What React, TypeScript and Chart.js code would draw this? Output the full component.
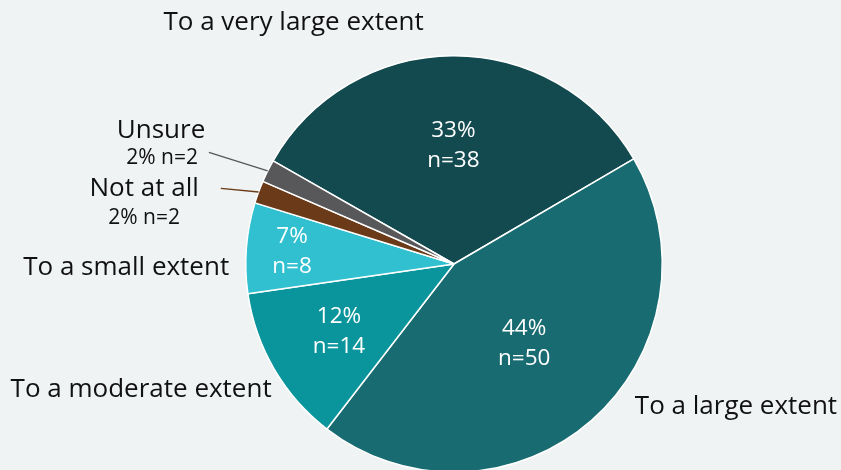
import React, { useEffect, useRef } from "react";
import { Chart, registerables } from "chart.js";

Chart.register(...registerables);

const categories = [
  "To a very large extent",
  "To a large extent",
  "To a moderate extent",
  "To a small extent",
  "Not at all",
  "Unsure",
];
const counts = [38, 50, 14, 8, 2, 2];
const percentLabels = ["33%", "44%", "12%", "7%", "2%", "2%"];
const colors = ["#134a4f", "#186b71", "#0a959d", "#30c0d0", "#6b3a18", "#58585a"];

// Layout (in units of pie radius, relative to pie centre)
const innerLabelDist = [0.57, 0.51, 0.64, 0.78, 0, 0];
const outerLabelPos: ([number, number] | null)[] = [
  [-161 / 209, -242 / 209],
  [283 / 209, 143 / 209],
  [-314 / 209, 126 / 209],
  [-329 / 209, 4 / 209],
  [-311 / 209, -76 / 209],
  [-294 / 209, -134 / 209],
];
const smallLabelPos: ([number, number] | null)[] = [null, null, null, null, [-311 / 209, -46 / 209], [-293 / 209, -106 / 209]];
const leaderStart: ([number, number] | null)[] = [null, null, null, null, [-234 / 209, -76 / 209], [-246 / 209, -112 / 209]];

const FONT = "'Open Sans', Lato, sans-serif";

const labelPlugin = {
  id: "pieLabels",
  afterDraw(chart: any) {
    const ctx = chart.ctx;
    const meta = chart.getDatasetMeta(0);
    ctx.save();
    ctx.textAlign = "center";
    ctx.textBaseline = "middle";
    meta.data.forEach((arc: any, i: number) => {
      const { x, y, startAngle, endAngle, outerRadius } = arc.getProps(
        ["x", "y", "startAngle", "endAngle", "outerRadius"],
        true
      );
      const mid = (startAngle + endAngle) / 2;
      const R = outerRadius;
      if (innerLabelDist[i] > 0) {
        const cx = x + Math.cos(mid) * R * innerLabelDist[i];
        const cy = y + Math.sin(mid) * R * innerLabelDist[i];
        ctx.fillStyle = "#ffffff";
        ctx.font = `22.5px ${FONT}`;
        ctx.fillText(percentLabels[i], cx, cy - 15);
        ctx.fillText(`n=${counts[i]}`, cx, cy + 15);
      }
      const ls = leaderStart[i];
      if (ls) {
        ctx.strokeStyle = colors[i];
        ctx.lineWidth = 1.3;
        ctx.beginPath();
        ctx.moveTo(x + ls[0] * R, y + ls[1] * R);
        ctx.lineTo(x + Math.cos(mid) * R, y + Math.sin(mid) * R);
        ctx.stroke();
      }
      const op = outerLabelPos[i];
      if (op) {
        ctx.fillStyle = "#111111";
        ctx.font = `26px ${FONT}`;
        ctx.fillText(categories[i], x + op[0] * R, y + op[1] * R);
      }
      const sp = smallLabelPos[i];
      if (sp) {
        ctx.fillStyle = "#111111";
        ctx.font = `21px ${FONT}`;
        ctx.fillText(`${percentLabels[i]} n=${counts[i]}`, x + sp[0] * R, y + sp[1] * R);
      }
    });
    ctx.restore();
  },
};

export default function App() {
  const ref = useRef<HTMLCanvasElement | null>(null);
  useEffect(() => {
    if (!ref.current) return;
    const chart = new Chart(ref.current, {
      type: "pie",
      data: {
        labels: categories,
        datasets: [
          {
            data: counts,
            backgroundColor: colors,
            borderColor: "#ffffff",
            borderWidth: 1.5,
            hoverOffset: 0,
          },
        ],
      },
      options: {
        animation: false,
        responsive: false,
        rotation: -60.3,
        layout: { padding: { left: 245, right: 178, top: 55, bottom: 3 } },
        plugins: {
          legend: { display: false },
          tooltip: { enabled: false },
        },
      },
      plugins: [labelPlugin],
    });
    return () => chart.destroy();
  }, []);
  return (
    <div
      style={{
        position: "fixed",
        left: 0,
        top: 0,
        width: 841,
        height: 470,
        overflow: "hidden",
        background: "#eff3f4",
      }}
    >
      <canvas ref={ref} width={841} height={476} style={{ display: "block" }} />
    </div>
  );
}
